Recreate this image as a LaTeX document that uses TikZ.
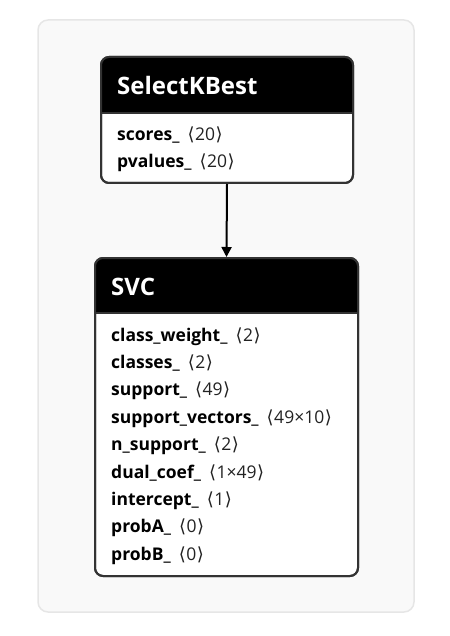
\documentclass[tikz,border=0pt]{standalone}
\usepackage{fontspec}
\setmainfont{Open Sans}
\newfontfamily\brfont{DejaVu Sans}
\usetikzlibrary{arrows.meta}
\definecolor{bgfill}{HTML}{F9F9F9}
\definecolor{bgline}{HTML}{E6E6E6}
\definecolor{boxline}{HTML}{333333}
\definecolor{dimtext}{HTML}{222222}
\newcommand{\lb}{{\brfont\fontsize{18}{20}\selectfont ⟨}}
\newcommand{\rb}{{\brfont\fontsize{18}{20}\selectfont ⟩}}
\newcommand{\attr}[2]{\textbf{#1}\hspace{8pt}{\color{dimtext}\lb\hspace{0.5pt}#2\hspace{0.5pt}\rb}}
\tikzset{
  box/.style={draw=boxline, line width=2pt, rounded corners=8pt, fill=white, inner sep=0pt},
  title/.style={anchor=base west, inner sep=0pt, text=white, font=\fontsize{24}{28}\selectfont\bfseries},
  row/.style={anchor=base west, inner sep=0pt, text=black, font=\fontsize{17.5}{21}\selectfont},
  link/.style={line width=2pt, -{Triangle[length=10pt,width=10pt]}}
}
\begin{document}
\begin{tikzpicture}[x=1pt,y=-1pt]
\useasboundingbox (0,0) rectangle (449,636);
\filldraw[fill=bgfill, draw=bgline, line width=1.5pt, rounded corners=10pt] (38,20) rectangle (414,612);
% SelectKBest
\node[box, minimum width=252pt, minimum height=126pt] (skb) at (227,120) {};
\fill[black] (101,113) [rounded corners=8pt] -- (101,57) -- (353,57) [sharp corners] -- (353,113) -- cycle;
\draw[boxline, line width=1.5pt] (101,113) -- (353,113);
\draw[boxline, line width=2pt, rounded corners=8pt] (101,57) rectangle (353,183);
\node[title] (skbt) at (117,95) {SelectKBest};
\node[row] (r1) at (117,141) {\attr{scores\_}{20}};
\node[row] (r2) at (117,168) {\attr{pvalues\_}{20}};
% SVC
\node[box, minimum width=263pt, minimum height=318pt] (svc) at (226.5,417) {};
\fill[black] (95,313) [rounded corners=8pt] -- (95,258) -- (358,258) [sharp corners] -- (358,313) -- cycle;
\draw[boxline, line width=1.5pt] (95,313) -- (358,313);
\draw[boxline, line width=2pt, rounded corners=8pt] (95,258) rectangle (358,576);
\node[title] (svct) at (111,295) {SVC};
\node[row] (s1) at (111,341) {\attr{class\_weight\_}{2}};
\node[row] (s2) at (111,368.4) {\attr{classes\_}{2}};
\node[row] (s3) at (111,395.8) {\attr{support\_}{49}};
\node[row] (s4) at (111,423.2) {\attr{support\_vectors\_}{49×10}};
\node[row] (s5) at (111,450.6) {\attr{n\_support\_}{2}};
\node[row] (s6) at (111,478) {\attr{dual\_coef\_}{1×49}};
\node[row] (s7) at (111,505.4) {\attr{intercept\_}{1}};
\node[row] (s8) at (111,532.8) {\attr{probA\_}{0}};
\node[row] (s9) at (111,560.2) {\attr{probB\_}{0}};
\draw[link] (skb.south) -- (svc.north);
\end{tikzpicture}
\end{document}
